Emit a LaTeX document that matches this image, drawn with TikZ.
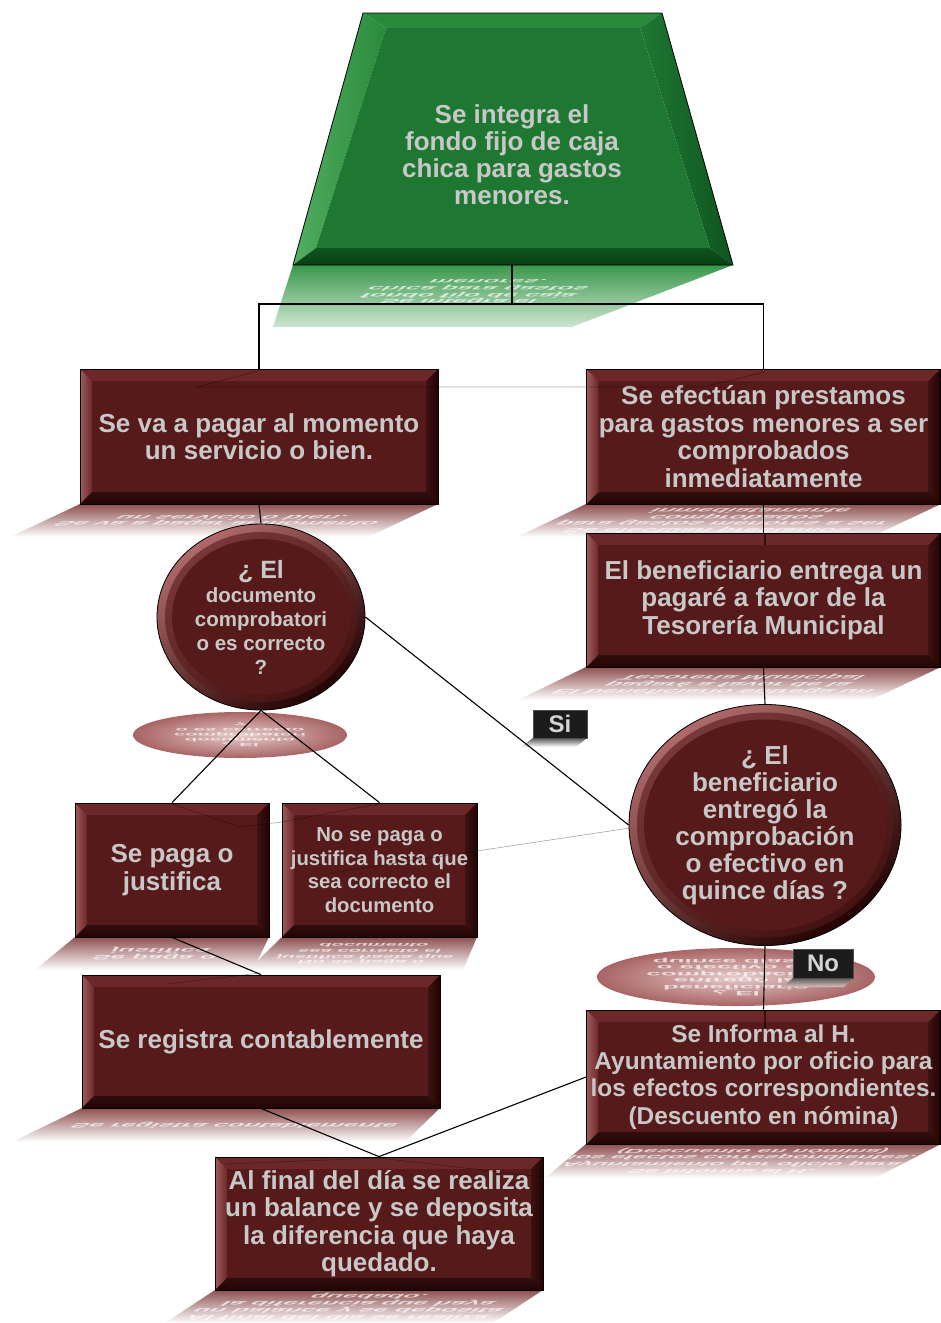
\documentclass[tikz,border=0pt]{standalone}
\usepackage{fontspec}
\setmainfont{Liberation Sans}
\usetikzlibrary{shapes.geometric}
\pgfdeclarelayer{bg}
\pgfsetlayers{bg,main}
\definecolor{boxfill}{HTML}{561A1A}
\definecolor{bevtop}{HTML}{6C2828}
\definecolor{bevhl}{HTML}{9E5C5C}
\definecolor{bevdark}{HTML}{240303}
\definecolor{cirhl}{HTML}{B06A6A}
\definecolor{txt}{HTML}{C8C8C8}
\definecolor{reflred}{HTML}{8E5050}
\definecolor{ellin}{HTML}{E6CACA}
\definecolor{ellout}{HTML}{A86464}
\definecolor{grfill}{HTML}{1E7832}
\definecolor{grtop}{HTML}{2A8A3C}
\definecolor{grhl}{HTML}{52AE60}
\definecolor{grdark}{HTML}{0E5520}
\definecolor{grdarker}{HTML}{0A3F14}
\definecolor{grrefl}{HTML}{3A984C}
\definecolor{lblfill}{HTML}{1C1C1C}
\definecolor{lbltxt}{HTML}{D4D4D4}
\tikzset{
  conn/.style={draw=black, line width=1.1pt},
  ghost/.style={draw=black, line width=0.6pt, draw opacity=0.35},
  rtx/.style={text=white, text opacity=0.7, align=center, inner sep=0pt},
  bx/.style={rectangle, draw=black, line width=0.8pt, fill=boxfill, text=txt, align=center, inner sep=0pt,
    font=\bfseries\fontsize{26}{27.5}\selectfont,
    path picture={
      \path (path picture bounding box.north west) coordinate (ppnw)
            (path picture bounding box.north east) coordinate (ppne)
            (path picture bounding box.south west) coordinate (ppsw)
            (path picture bounding box.south east) coordinate (ppse);
      \fill[bevtop] (ppnw) -- (ppne) -- ([shift={(-12pt,-12pt)}]ppne) -- ([shift={(12pt,-12pt)}]ppnw) -- cycle;
      \shade[left color=bevhl, right color=bevtop] (ppnw) -- ([shift={(12pt,-12pt)}]ppnw) -- ([shift={(12pt,12pt)}]ppsw) -- (ppsw) -- cycle;
      \shade[left color=boxfill!70!black, right color=bevdark] (ppne) -- ([shift={(-12pt,-12pt)}]ppne) -- ([shift={(-12pt,12pt)}]ppse) -- (ppse) -- cycle;
      \shade[top color=boxfill!55!black, bottom color=bevdark] (ppsw) -- ([shift={(12pt,12pt)}]ppsw) -- ([shift={(-12pt,12pt)}]ppse) -- (ppse) -- cycle;
    }},
  cir/.style 2 args={ellipse, draw=black, line width=0.8pt, inner sep=0pt, text=txt, align=center, fill=boxfill,
    minimum width=#1pt, minimum height=#2pt,
    path picture={
      \shade[top color=cirhl, bottom color=bevdark, shading angle=35]
        (path picture bounding box.south west) rectangle (path picture bounding box.north east);
      \fill[boxfill, opacity=0.6] (path picture bounding box.center) ellipse [x radius={(#1/2-8)*1pt}, y radius={(#2/2-8)*1pt}];
      \fill[boxfill] (path picture bounding box.center) ellipse [x radius={(#1/2-15)*1pt}, y radius={(#2/2-15)*1pt}];
    }},
  lbl/.style={rectangle, draw=black!70, line width=0.8pt, fill=lblfill, text=lbltxt, inner sep=0pt,
    font=\bfseries\fontsize{24}{24}\selectfont},
}
\newcommand\reflbox[8]{%
  \begin{scope}
    \clip (#1,#3) -- (#2,#3) -- ({#2-#5},{#3+#6}) -- ({#1-#4},{#3+#6}) -- cycle;
    \shade[top color=reflred, bottom color=white] ({#1-#4},#3) rectangle (#2,{#3+#6});
    \node[rtx, font=#7, minimum height=134pt, anchor=south, xslant={(#4+#5)/(2*#6)}, yscale=-0.25]
      at ({(#1+#2)/2},#3) {#8};
  \end{scope}}
\newcommand\reflell[7]{%
  \begin{scope}
    \clip (#1,#2) ellipse [x radius=#3pt, y radius=#4pt];
    \shade[inner color=ellin, outer color=ellout] (#1,#2) ellipse [x radius=#3pt, y radius=#4pt];
    \node[rtx, font=#5, yscale=-#7] at (#1,#2) {#6};
  \end{scope}}
\begin{document}
\begin{tikzpicture}[x=1pt,y=-1pt]
\useasboundingbox (0,0) rectangle (941,1323);
\begin{pgfonlayer}{bg}
  \fill[white] (0,0) rectangle (941,1323);
  % reflection of the trapezoid
  \begin{scope}
    \clip (293,265) -- (733,265) -- (572,327) -- (273,327) -- cycle;
    \shade[top color=grrefl, bottom color=grrefl!25!white] (270,265) rectangle (733,327);
    \node[rtx, font=\bfseries\fontsize{26}{27}\selectfont, minimum height=220pt, anchor=south, xslant=1.45, yscale=-0.246]
      at (512,265) {Se integra el\\fondo fijo de caja\\chica para gastos\\menores.};
  \end{scope}
  \reflbox{80}{438}{504}{70}{70}{33}{\bfseries\fontsize{26}{27.5}\selectfont}{Se va a pagar al momento\\un servicio o bien.}
  \reflbox{586}{941}{504}{69}{70}{33}{\bfseries\fontsize{26}{27.5}\selectfont}{Se efectúan prestamos\\para gastos menores a ser\\comprobados\\inmediatamente}
  \reflbox{586}{941}{667}{68}{70}{33}{\bfseries\fontsize{26}{27.5}\selectfont}{El beneficiario entrega un\\pagaré a favor de la\\Tesorería Municipal}
  \reflbox{75}{269}{937}{40}{16}{33}{\bfseries\fontsize{26}{27.5}\selectfont}{Se paga o\\justifica}
  \reflbox{282}{477}{937}{34}{14}{33}{\bfseries\fontsize{20.3}{23.5}\selectfont}{No se paga o\\justifica hasta que\\sea correcto el\\documento}
  \reflbox{82}{440}{1108}{70}{35}{34}{\bfseries\fontsize{26}{27.5}\selectfont}{Se registra contablemente}
  \reflbox{586}{941}{1144}{41}{66}{34}{\bfseries\fontsize{24.4}{27.3}\selectfont}{Se Informa al H.\\Ayuntamiento por oficio para\\los efectos correspondientes.\\(Descuento en nómina)}
  \reflbox{215}{543}{1290}{50}{50}{33}{\bfseries\fontsize{26}{27.5}\selectfont}{Al final del día se realiza\\un balance y se deposita\\la diferencia que haya\\quedado.}
  \reflell{240}{735}{107}{23}{\bfseries\fontsize{20.5}{24}\selectfont}{¿ El\\documento\\comprobatori\\o es correcto\\?}{0.22}
  \reflell{736}{977}{139}{29}{\bfseries\fontsize{26}{27}\selectfont}{¿ El\\beneficiario\\entregó la\\comprobación\\o efectivo en\\quince días ?}{0.24}
  % reflections of the labels
  \shade[top color=black!65, bottom color=white] (533,738) -- (587,738) -- (576,747) -- (521,747) -- cycle;
  \shade[top color=black!65, bottom color=ellout!40!white] (793,978) -- (853,978) -- (844,987) -- (783,987) -- cycle;
\end{pgfonlayer}

% top trapezoid
\coordinate (T1) at (363,13);
\coordinate (T2) at (662,13);
\coordinate (T3) at (733,265);
\coordinate (T4) at (293,265);
\coordinate (I1) at (386,28);
\coordinate (I2) at (640,28);
\coordinate (I3) at (710,248);
\coordinate (I4) at (316,248);
\fill[grtop] (T1) -- (T2) -- (I2) -- (I1) -- cycle;
\shade[left color=grhl, right color=grtop] (T1) -- (I1) -- (I4) -- (T4) -- cycle;
\shade[left color=grfill, right color=grdark] (T2) -- (T3) -- (I3) -- (I2) -- cycle;
\shade[top color=grdark, bottom color=grdarker] (T4) -- (I4) -- (I3) -- (T3) -- cycle;
\fill[grfill] (I1) -- (I2) -- (I3) -- (I4) -- cycle;
\draw[black, line width=0.8pt] (T1) -- (T2) -- (T3) -- (T4) -- cycle;
\node[text=txt, font=\bfseries\fontsize{26}{27}\selectfont, align=center] (top) at (512,155)
  {Se integra el\\fondo fijo de caja\\chica para gastos\\menores.};
\coordinate (topS) at (512,265);

% boxes and decisions
\node[bx, minimum width=358pt, minimum height=135pt] (b1) at (259,436.5) {Se va a pagar al momento\\un servicio o bien.};
\node[bx, minimum width=354pt, minimum height=135pt] (b2) at (763.5,436.5) {Se efectúan prestamos\\para gastos menores a ser\\comprobados\\inmediatamente};
\node[bx, minimum width=354pt, minimum height=134pt] (b3) at (763.5,600) {El beneficiario entrega un\\pagaré a favor de la\\Tesorería Municipal};
\node[cir={208}{186}, font=\bfseries\fontsize{20.5}{24}\selectfont] (c1) at (261,617)
  {{\fontsize{25}{24}\selectfont ¿ El}\\documento\\comprobatori\\o es correcto\\?};
\node[cir={272}{241}, font=\bfseries\fontsize{26}{27}\selectfont] (c2) at (765,825)
  {¿ El\\beneficiario\\entregó la\\comprobación\\o efectivo en\\quince días ?};
\node[bx, minimum width=194pt, minimum height=134pt] (b4) at (172,870) {Se paga o\\justifica};
\node[bx, minimum width=195pt, minimum height=134pt, font=\bfseries\fontsize{20.3}{23.5}\selectfont] (b5) at (379.5,870)
  {No se paga o\\justifica hasta que\\sea correcto el\\documento};
\node[bx, minimum width=358pt, minimum height=133pt] (b6) at (261,1041.5) {Se registra contablemente};
\node[bx, minimum width=354pt, minimum height=134pt, font=\bfseries\fontsize{24.4}{27.3}\selectfont] (b7) at (763.5,1077)
  {Se Informa al H.\\Ayuntamiento por oficio para\\los efectos correspondientes.\\(Descuento en nómina)};
\node[bx, minimum width=328pt, minimum height=133pt] (b8) at (379,1223.5)
  {Al final del día se realiza\\un balance y se deposita\\la diferencia que haya\\quedado.};

% connectors
\draw[conn] (topS) -- ++(0,39) -| (b1.north);
\draw[conn] (topS) -- ++(0,39) -| (b2.north);
\draw[conn] (b1.south) -- (c1.north);
\draw[conn] (b2.south) -- (b3.north);
\draw[conn] (b3.south) -- (c2.north);
\draw[conn] (c1.south) -- (b4.north);
\draw[conn] (c1.south) -- (b5.north);
\draw[conn] (c1.east) -- (c2.west);
\draw[conn] (c2.south) -- (b7.north);
\draw[conn] (b4.south) -- (b6.north);
\draw[conn] (b6.south) -- (b8.north);
\draw[conn] (b7.west) -- (b8.north);

% labels
\node[lbl, minimum width=54pt, minimum height=28pt] (si) at (560,724) {Si};
\node[lbl, minimum width=60pt, minimum height=29pt] (no) at (823,963.5) {No};

% faint mirrored connector traces
\draw[ghost] (258,371) -- (197,387) -- (703,387) -- (765,372);
\draw[ghost] (172,804) -- (240,827) -- (282,822) -- (378,804);
\draw[ghost] (330,873) -- (630,828);
\draw[ghost] (167,984) -- (260,973);
\draw[ghost] (225,1164) -- (379,1158) -- (543,1177);
\draw[black, line width=2.5pt, draw opacity=0.55] (765,1010) -- (765,1028);
\draw[black, line width=2pt, draw opacity=0.55] (765,533) -- (765,545);
\end{tikzpicture}
\end{document}
